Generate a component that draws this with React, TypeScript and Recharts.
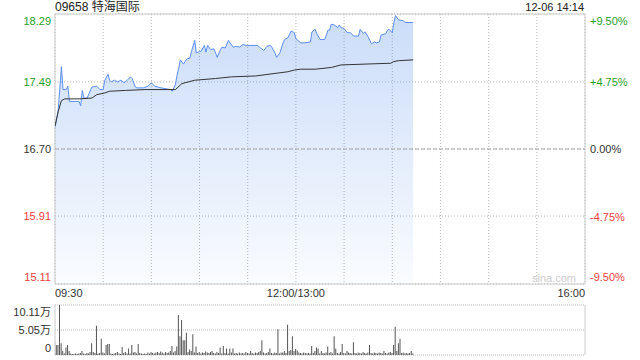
import React from 'react';
import {
  ComposedChart,
  Area,
  Line,
  Bar,
  XAxis,
  YAxis,
  CartesianGrid,
  ReferenceLine,
  ReferenceArea,
} from 'recharts';

const FONT = '"Liberation Sans", Arial, "Noto Sans CJK SC", sans-serif';
const GREEN = '#1f9e1f';
const RED = '#f03c3c';
const PREV_CLOSE = 16.7;

// minutes since 09:30 (trading minutes; 150 = 12:00/13:00)
const priceMinutes = [
  0, 2, 4, 5, 7, 8, 9, 15, 16, 17, 18, 20, 23, 26, 27, 28, 30, 31, 33, 34,
  35, 37, 39, 41, 43, 45, 47, 48, 50, 51, 55, 58, 60, 62, 66, 72, 73, 75, 76, 77,
  78, 80, 82, 84, 85, 87, 88, 90, 91, 93, 94, 95, 97, 99, 100, 101, 103, 104, 106, 108,
  109, 111, 113, 115, 117, 119, 126, 128, 130, 132, 134, 135, 137, 138, 140, 142, 143, 145, 147, 149,
  150, 153, 155, 159, 160, 162, 163, 165, 168, 170, 171, 172, 174, 176, 177, 178, 180, 182, 184, 186,
  189, 190, 192, 193, 195, 197, 199, 200, 202, 203, 206, 207, 208, 210, 211, 212, 214, 217, 218, 223,
];
const prices = [
  16.95, 17.16, 17.67, 17.40, 17.40, 17.44, 17.26, 17.26, 17.21, 17.39, 17.30, 17.30, 17.43, 17.44, 17.42, 17.40, 17.40, 17.51, 17.58, 17.51,
  17.49, 17.51, 17.49, 17.51, 17.48, 17.51, 17.55, 17.53, 17.43, 17.42, 17.42, 17.44, 17.48, 17.44, 17.42, 17.40, 17.38, 17.46, 17.57, 17.65,
  17.75, 17.70, 17.76, 17.77, 17.85, 17.98, 17.83, 17.85, 17.85, 17.92, 17.84, 17.92, 17.87, 17.88, 17.83, 17.78, 17.87, 17.90, 17.89, 17.98,
  17.95, 17.90, 17.91, 17.90, 17.93, 17.92, 17.92, 17.89, 17.86, 17.91, 17.92, 17.90, 17.83, 17.78, 17.83, 17.95, 17.99, 18.01, 18.09, 18.07,
  18.00, 17.95, 17.95, 17.96, 18.08, 18.11, 18.06, 17.99, 17.99, 18.10, 18.10, 18.17, 18.16, 18.13, 18.16, 18.13, 18.12, 18.07, 18.07, 18.03,
  18.03, 18.11, 18.06, 18.08, 18.02, 17.94, 17.96, 17.95, 17.96, 18.04, 18.06, 18.10, 18.11, 18.07, 18.19, 18.27, 18.22, 18.21, 18.19, 18.19,
];

const avgMinutes = [0, 2, 4, 6, 15, 23, 26, 31, 34, 44, 56, 75, 79, 87, 100, 110, 125, 137, 145, 149, 153, 162, 172, 178, 193, 209, 211, 214, 223];
const avgPrices = [16.97, 17.14, 17.27, 17.29, 17.29, 17.30, 17.34, 17.36, 17.38, 17.39, 17.40, 17.40, 17.47, 17.51, 17.53, 17.55, 17.56, 17.59, 17.61, 17.63, 17.64, 17.64, 17.66, 17.69, 17.70, 17.71, 17.73, 17.74, 17.75];

// volume per minute, in 万 shares
const volumes = [
  2.8, 2.0, 2.0, 10.11, 2.4, 0.8, 0.3, 1.5, 2.0, 0.8,
  0.3, 0.2, 0.2, 0.3, 0.2, 0.3, 0.4, 0.8, 0.3, 0.2,
  0.4, 0.3, 0.6, 2.4, 0.6, 0.4, 5.9, 0.3, 0.4, 3.3,
  0.5, 0.3, 2.0, 2.2, 2.2, 0.3, 0.2, 0.3, 0.4, 0.6,
  0.3, 0.2, 1.6, 0.4, 0.6, 0.3, 1.3, 0.3, 2.0, 0.5,
  0.6, 0.3, 2.2, 0.4, 0.3, 0.2, 0.3, 0.2, 0.5, 0.3,
  0.6, 0.4, 0.3, 0.5, 0.6, 0.4, 0.7, 0.5, 0.3, 0.6,
  0.4, 0.5, 0.8, 1.8, 0.5, 0.8, 1.7, 8.1, 3.8, 7.1,
  3.0, 3.0, 4.5, 0.6, 1.1, 0.8, 4.2, 0.5, 1.7, 0.4,
  0.6, 0.3, 0.5, 0.4, 0.7, 0.5, 0.4, 0.6, 0.8, 0.4,
  0.3, 0.6, 0.4, 1.5, 0.3, 1.8, 0.4, 1.3, 0.3, 1.3,
  0.5, 1.3, 0.3, 0.4, 0.3, 0.5, 0.3, 0.4, 0.3, 0.6,
  0.4, 0.3, 0.8, 0.4, 0.3, 0.5, 0.4, 0.6, 0.8, 3.0,
  0.5, 0.3, 0.4, 0.6, 1.3, 0.4, 0.3, 0.5, 0.4, 5.2,
  0.3, 0.5, 0.5, 0.8, 0.4, 6.1, 0.8, 1.0, 3.8, 0.8,
  1.2, 0.9, 0.5, 0.4, 0.3, 0.5, 0.4, 0.3, 0.4, 0.3,
  1.8, 0.4, 0.8, 1.5, 1.3, 0.3, 0.8, 0.4, 0.3, 0.5,
  1.7, 0.4, 0.6, 0.3, 3.8, 1.3, 0.4, 0.3, 0.6, 2.2,
  0.4, 0.3, 0.8, 0.5, 0.4, 0.3, 2.6, 0.4, 0.3, 0.5,
  0.4, 0.3, 0.6, 0.4, 0.3, 0.5, 2.0, 0.4, 0.3, 0.5,
  0.4, 0.3, 0.5, 0.4, 0.3, 0.8, 0.4, 0.3, 0.5, 0.6,
  0.4, 2.0, 5.7, 0.8, 2.4, 3.3, 0.4, 0.5, 0.3, 0.4,
  0.3, 0.4, 0.8, 0.3,
];

const priceTicks = [15.11, 15.91, 16.7, 17.49, 18.29];
const pctTicks = [-9.5, -4.75, 0, 4.75, 9.5];
const timeTicks = [0, 30, 60, 90, 120, 150, 180, 210, 240, 270, 300, 330];
const timeLabels: Record<number, string> = { 0: '09:30', 150: '12:00/13:00', 330: '16:00' };
const volTicks = [0, 5.05, 10.11];
const volLabels: Record<number, string> = { 0: '0', 5.05: '5.05万', 10.11: '10.11万' };

const priceData = priceMinutes.map((t, i) => ({ t, p: prices[i] }));
const avgData = avgMinutes.map((t, i) => ({ t, a: avgPrices[i] }));
const volData = volumes.map((v, i) => ({ t: i, v }));

const PriceTick = (props: any) => {
  const { x, y, payload } = props;
  const v = payload.value as number;
  const color = v > PREV_CLOSE + 0.001 ? GREEN : v < PREV_CLOSE - 0.001 ? RED : '#333';
  const shift = v === priceTicks[priceTicks.length - 1] ? 7 : v === priceTicks[0] ? -7 : 0;
  return (
    <text x={x} y={y + shift} textAnchor="end" dominantBaseline="central" fill={color} fontSize={11} fontFamily={FONT}>
      {v.toFixed(2)}
    </text>
  );
};

const PctTick = (props: any) => {
  const { x, y, payload } = props;
  const v = payload.value as number;
  const color = v > 0 ? GREEN : v < 0 ? RED : '#333';
  const label = (v > 0 ? '+' : '') + v.toFixed(2) + '%';
  const shift = v === pctTicks[pctTicks.length - 1] ? 7 : v === pctTicks[0] ? -7 : 0;
  return (
    <text x={x} y={y + shift} textAnchor="start" dominantBaseline="central" fill={color} fontSize={11} fontFamily={FONT}>
      {label}
    </text>
  );
};

const TimeTick = (props: any) => {
  const { x, y, payload } = props;
  const v = payload.value as number;
  const label = timeLabels[v];
  if (!label) return null;
  const anchor = v === 0 ? 'start' : v === 330 ? 'end' : 'middle';
  return (
    <text x={x} y={y} textAnchor={anchor} dominantBaseline="central" fill="#333" fontSize={11} fontFamily={FONT}>
      {label}
    </text>
  );
};

const VolTick = (props: any) => {
  const { x, y, payload } = props;
  const v = payload.value as number;
  const shift = v === volTicks[volTicks.length - 1] ? 7 : v === volTicks[0] ? -7 : 0;
  return (
    <text x={x} y={y + shift} textAnchor="end" dominantBaseline="central" fill="#333" fontSize={11} fontFamily={FONT}>
      {volLabels[v]}
    </text>
  );
};

export default function App() {
  return (
    <div style={{ position: 'absolute', left: 0, top: 0, width: 640, height: 360, background: '#fff', fontFamily: FONT, overflow: 'hidden' }}>
      <div style={{ position: 'absolute', left: 55, top: 0, fontSize: 12, lineHeight: '14px', color: '#222', whiteSpace: 'nowrap' }}>
        09658 特海国际
      </div>
      <div style={{ position: 'absolute', right: 56, top: 0, fontSize: 11, lineHeight: '14px', color: '#222', whiteSpace: 'nowrap' }}>
        12-06 14:14
      </div>
      <div style={{ position: 'absolute', left: 0, top: 0 }}>
        <ComposedChart width={640} height={304} margin={{ top: 14, right: 0, bottom: 0, left: 0 }}>
          <defs>
            <linearGradient id="priceFill" x1="0" y1="0" x2="0" y2="1">
              <stop offset="0%" stopColor="#508ceb" stopOpacity={0.3} />
              <stop offset="100%" stopColor="#508ceb" stopOpacity={0.03} />
            </linearGradient>
          </defs>
          <XAxis
            type="number"
            dataKey="t"
            domain={[0, 330]}
            ticks={timeTicks}
            interval={0}
            height={20}
            axisLine={false}
            tickLine={false}
            tickSize={0}
            tickMargin={9}
            tick={TimeTick}
            allowDataOverflow
          />
          <YAxis
            yAxisId="price"
            orientation="left"
            width={55}
            domain={[15.11, 18.29]}
            ticks={priceTicks}
            interval={0}
            axisLine={false}
            tickLine={false}
            tickSize={0}
            tickMargin={4}
            tick={PriceTick}
            allowDataOverflow
          />
          <YAxis
            yAxisId="pct"
            orientation="right"
            width={55}
            domain={[-9.5, 9.5]}
            ticks={pctTicks}
            interval={0}
            axisLine={false}
            tickLine={false}
            tickSize={0}
            tickMargin={5}
            tick={PctTick}
            allowDataOverflow
          />
          <CartesianGrid yAxisId="price" stroke="#b8b8b8" strokeDasharray="1 2" />
          <ReferenceLine yAxisId="price" y={PREV_CLOSE} stroke="#aaa" strokeDasharray="4 2" />
          <Area
            yAxisId="price"
            data={priceData}
            dataKey="p"
            type="linear"
            stroke="#5b8ff0"
            strokeWidth={1}
            fill="url(#priceFill)"
            fillOpacity={1}
            dot={false}
            activeDot={false}
            isAnimationActive={false}
          />
          <Line
            yAxisId="price"
            data={avgData}
            dataKey="a"
            type="linear"
            stroke="#333"
            strokeWidth={1}
            dot={false}
            activeDot={false}
            isAnimationActive={false}
          />
          <ReferenceArea yAxisId="price" x1={0} x2={330} y1={15.11} y2={18.29} fill="none" stroke="#ccc" strokeWidth={1} />
        </ComposedChart>
      </div>
      <div style={{ position: 'absolute', left: 532, top: 271, fontSize: 11, lineHeight: '14px', color: '#ccc' }}>sina.com</div>
      <div style={{ position: 'absolute', left: 0, top: 300 }}>
        <ComposedChart width={640} height={60} data={volData} margin={{ top: 5, right: 55, bottom: 5, left: 0 }}>
          <XAxis type="number" dataKey="t" domain={[0, 330]} hide height={0} allowDataOverflow />
          <YAxis
            orientation="left"
            width={55}
            domain={[0, 10.11]}
            ticks={volTicks}
            interval={0}
            axisLine={false}
            tickLine={false}
            tickSize={0}
            tickMargin={4}
            tick={VolTick}
            allowDataOverflow
          />
          <CartesianGrid vertical={false} stroke="#bbb" strokeDasharray="1 1" />
          <Bar dataKey="v" fill="#555" barSize={1} isAnimationActive={false} />
          <ReferenceLine x={0} stroke="#ccc" />
          <ReferenceLine x={330} stroke="#ccc" />
        </ComposedChart>
      </div>
    </div>
  );
}
